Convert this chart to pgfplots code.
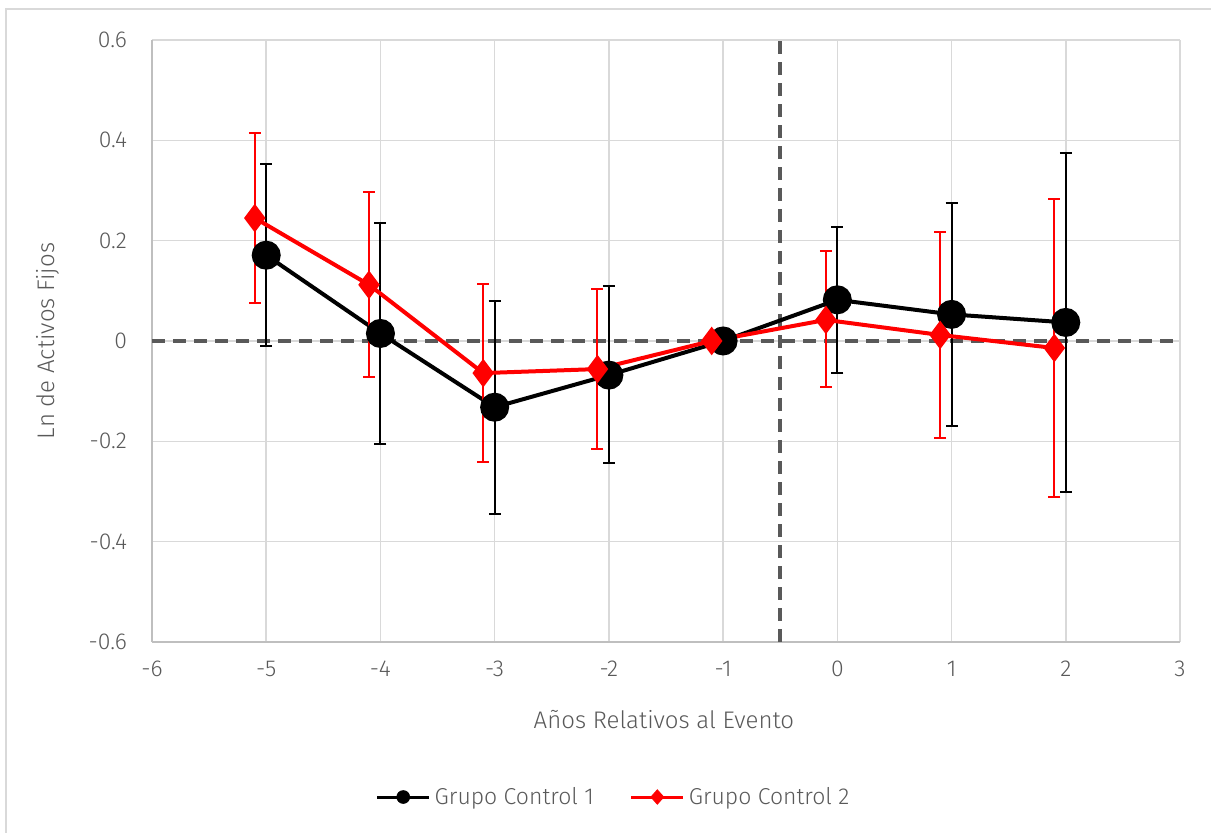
\documentclass[border=0pt]{standalone}
\usepackage{fontspec}
\setmainfont{Fira Sans Light}
\usepackage{pgfplots}
\pgfplotsset{compat=1.18}
\usepackage{pgfplotstable}
\definecolor{txt}{HTML}{595959}
\definecolor{grd}{HTML}{D9D9D9}
\definecolor{axl}{HTML}{BFBFBF}
\definecolor{dsh}{HTML}{595959}
\definecolor{myred}{HTML}{FF0000}

\pgfplotstableread{
x y ep em
-5 0.171 0.182 0.181
-4 0.015 0.221 0.220
-3 -0.132 0.212 0.213
-2 -0.068 0.177 0.176
-1 0 0 0
0 0.082 0.146 0.146
1 0.053 0.222 0.222
2 0.037 0.338 0.338
}\gcone
\pgfplotstableread{
x y ep em
-5.1 0.245 0.169 0.169
-4.1 0.112 0.185 0.184
-3.1 -0.064 0.177 0.177
-2.1 -0.056 0.160 0.159
-1.1 0 0 0
-0.1 0.042 0.137 0.134
0.9 0.012 0.205 0.205
1.9 -0.014 0.297 0.296
}\gctwo

\begin{document}
\begin{tikzpicture}
\path[use as bounding box] (-76pt,-95.5pt) rectangle (529.5pt,321pt);
\draw[grd, line width=0.75pt] (-73pt,-95.5pt) -- (-73pt,316.5pt) -- (529.5pt,316.5pt);
\begin{axis}[
  at={(0,0)}, anchor=south west,
  scale only axis, width=514pt, height=301pt,
  xmin=-6, xmax=3, ymin=-0.6, ymax=0.6,
  xtick={-6,...,3}, ytick={-0.6,-0.4,...,0.6},
  yticklabels={-0.6,-0.4,-0.2,0,0.2,0.4,0.6},
  xticklabels={-6,-5,-4,-3,-2,-1,0,1,2,3},
  axis lines=left, axis line style={axl, line width=0.75pt, -},
  grid=major, grid style={grd, line width=0.8pt},
  major tick length=0pt,
  /pgf/number format/assume math mode=true,
  tick label style={font=\fontsize{11.5}{14}\selectfont, text=txt},
  yticklabel style={xshift=-9pt},
  xticklabel style={yshift=-6pt},
  xlabel={Años Relativos al Evento},
  ylabel={Ln de Activos Fijos},
  label style={font=\fontsize{12}{14}\selectfont, text=txt},
  xlabel style={at={(axis description cs:0.498,-0.128)}, anchor=center},
  ylabel style={at={(axis description cs:-0.101,0.5)}, anchor=center},
  legend style={at={(axis description cs:0.450,-0.2575)}, anchor=center,
    legend columns=2, draw=none, fill=none,
    font=\fontsize{11.5}{14}\selectfont, text=txt,
    /tikz/every even column/.append style={column sep=16pt},
    legend cell align=left},
]
\addplot[dsh, line width=2pt, dash pattern=on 6.5pt off 4pt, forget plot] coordinates {(-6,0) (3,0)};
\addplot[dsh, line width=2pt, dash pattern=on 6.5pt off 4pt, forget plot] coordinates {(-0.5,-0.6) (-0.5,0.6)};
\addplot[black, line width=2pt, mark=*, mark size=6.25pt,
  mark options={solid, fill=black},
  error bars/.cd, y dir=both, y explicit,
  error bar style={black, line width=1pt},
  error mark options={rotate=90, mark size=3pt, line width=1pt, black}]
  table[x=x, y=y, y error plus=ep, y error minus=em] {\gcone};
\addlegendimage{legend image code/.code={
  \draw[black, line width=1.5pt] (0pt,0pt) -- (26pt,0pt);
  \fill[black] (13pt,0pt) circle (3.2pt);}}
\addplot[myred, line width=2pt, mark=diamond*, mark size=5.5pt,
  mark options={solid, fill=myred},
  error bars/.cd, y dir=both, y explicit,
  error bar style={myred, line width=1pt},
  error mark options={rotate=90, mark size=3pt, line width=1pt, myred}]
  table[x=x, y=y, y error plus=ep, y error minus=em] {\gctwo};
\addlegendimage{legend image code/.code={
  \draw[myred, line width=1.5pt] (0pt,0pt) -- (26pt,0pt);
  \fill[myred] (13pt,3.6pt) -- (16.2pt,0pt) -- (13pt,-3.6pt) -- (9.8pt,0pt) -- cycle;}}
\legend{,Grupo Control 1,,Grupo Control 2}
\end{axis}
\end{tikzpicture}
\end{document}
